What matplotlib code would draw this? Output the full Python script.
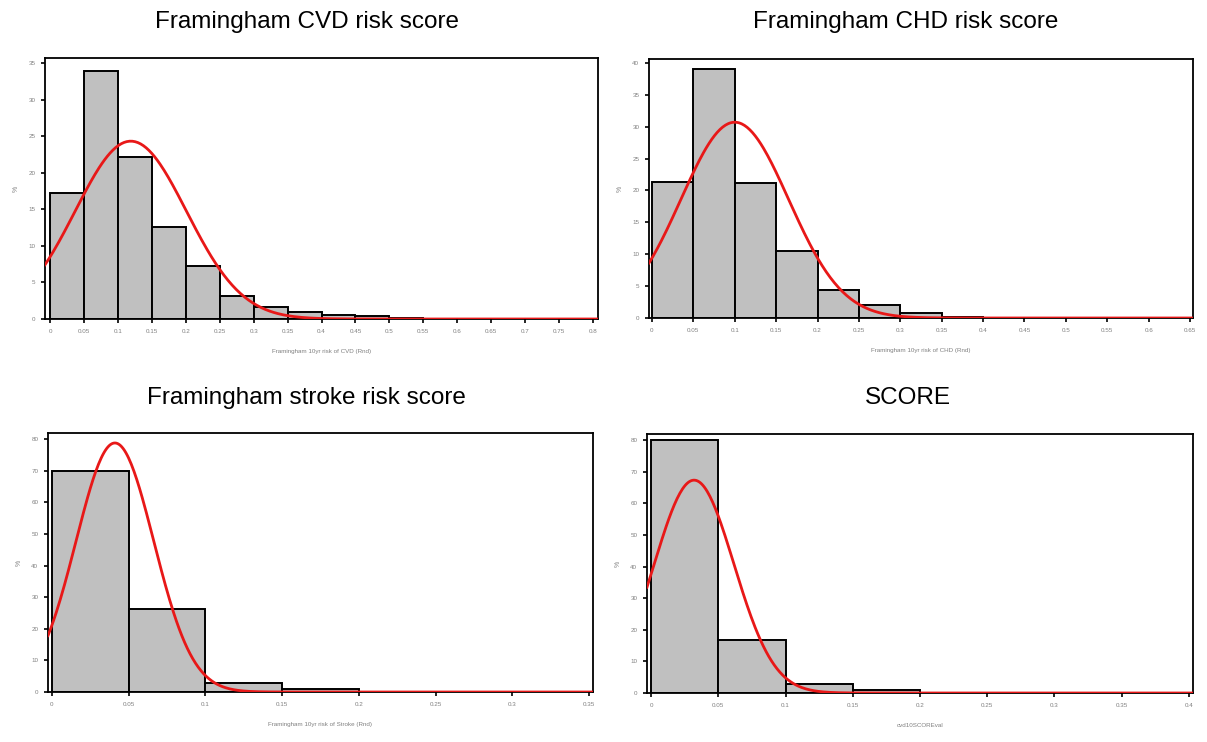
import numpy as np
import matplotlib.pyplot as plt

# percentage of subjects per 0.05-wide risk band
bin_width = 0.05
cvd_pct = [17.2, 33.9, 22.1, 12.6, 7.2, 3.1, 1.6, 0.95, 0.55, 0.35, 0.1, 0.06, 0.04, 0.02, 0.01, 0.01]
chd_pct = [21.3, 39.0, 21.1, 10.5, 4.4, 2.1, 0.75, 0.15, 0.05, 0.03, 0.02, 0.01, 0.01]
stroke_pct = [70.0, 26.2, 2.7, 0.8, 0.15, 0.1, 0.05]
score_pct = [80.0, 16.8, 2.8, 0.8, 0.1, 0.05, 0.03, 0.02]

# fitted normal curves (mean, sd)
fit_mean = [0.119, 0.100, 0.041, 0.032]
fit_sd = [0.082, 0.065, 0.0253, 0.0296]

titles = ["Framingham CVD risk score", "Framingham CHD risk score",
          "Framingham stroke risk score", "SCORE"]
xlabels = ["Framingham 10yr risk of CVD (Rnd)", "Framingham 10yr risk of CHD (Rnd)",
           "Framingham 10yr risk of Stroke (Rnd)", "cvd10SCOREval"]
x_max = [0.8, 0.65, 0.35, 0.4]
y_ticks = [np.arange(0, 36, 5), np.arange(0, 41, 5), np.arange(0, 81, 10), np.arange(0, 81, 10)]
y_top = [35.7, 40.6, 82, 82]
x_pad = [0.0074, 0.0036, 0.0026, 0.0030]

W, H = 1207, 742
# axes boxes in pixels: left, right, top, bottom
boxes = [(45, 598, 58, 319), (649, 1193, 59, 318), (48, 593, 433, 692), (647, 1193, 434, 693)]
title_pos = [(307, 22), (906, 22), (306, 398), (908, 398)]

plt.rcParams['font.family'] = ['Liberation Sans', 'DejaVu Sans']
fig = plt.figure(figsize=(W / 100, H / 100), dpi=100)

data = [cvd_pct, chd_pct, stroke_pct, score_pct]
for i in range(4):
    l, r, t, b = boxes[i]
    ax = fig.add_axes([l / W, 1 - b / H, (r - l) / W, (b - t) / H])
    pct = data[i]
    edges = np.arange(len(pct)) * bin_width
    ax.bar(edges, pct, width=bin_width, align='edge', color='#c0c0c0',
           edgecolor='black', linewidth=1.4, zorder=2)
    xs = np.linspace(-x_pad[i], x_max[i] + x_pad[i], 400)
    m, s = fit_mean[i], fit_sd[i]
    curve = 100 * bin_width * np.exp(-(xs - m) ** 2 / (2 * s ** 2)) / (s * np.sqrt(2 * np.pi))
    ax.plot(xs, curve, color='#e81818', linewidth=2.0, zorder=3)

    ax.set_xlim(-x_pad[i], x_max[i] + x_pad[i])
    ax.set_ylim(0, y_top[i])
    xt = np.round(np.arange(0, x_max[i] + 1e-9, 0.05), 2)
    ax.set_xticks(xt)
    ax.set_xticklabels([f"{v:g}" for v in xt])
    ax.set_yticks(y_ticks[i])
    ax.tick_params(direction='out', length=3, width=1.2, labelsize=4.5,
                   labelcolor='#808080', pad=4)
    for sp in ax.spines.values():
        sp.set_linewidth(1.3)
    ax.set_xlabel(xlabels[i], fontsize=4.5, color='#808080', labelpad=11)
    ax.set_ylabel("%", fontsize=5, color='#808080', labelpad=6)

    tx, ty = title_pos[i]
    fig.text(tx / W, 1 - ty / H, titles[i], fontsize=17.5, ha='center', va='center')

fig.savefig("out.png", dpi=100)
